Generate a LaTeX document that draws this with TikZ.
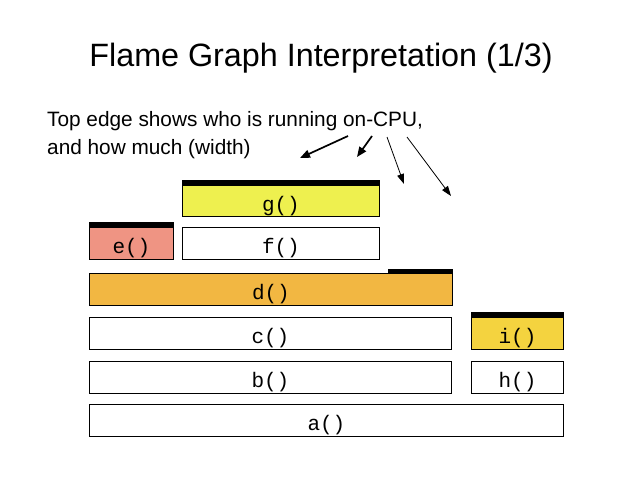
\documentclass[tikz,border=0pt]{standalone}
\usepackage{fontspec}
\setmainfont{Liberation Sans}
\newfontfamily\monofnt{Liberation Mono}
\usetikzlibrary{arrows.meta}
\definecolor{gyellow}{HTML}{EEF04F}
\definecolor{esalmon}{HTML}{EF9483}
\definecolor{dorange}{HTML}{F2B742}
\definecolor{iyellow}{HTML}{F4D33F}
\tikzset{
  frame/.style={draw=black, line width=0.9pt, inner sep=0pt, anchor=north west,
    minimum height=32pt, text height=21pt, text depth=0pt,
    font=\monofnt\fontsize{21}{22}\selectfont},
  topbar/.style={fill=black},
  thickarrow/.style={line width=1.7pt, -{Triangle[length=10pt,width=8pt]}},
  thinarrow/.style={line width=0.8pt, -{Triangle[length=10pt,width=7pt]}},
  bodytext/.style={anchor=base west, inner sep=0pt, font=\fontsize{20.8}{24}\selectfont}
}
\begin{document}
\begin{tikzpicture}[x=1pt,y=-1pt]
\useasboundingbox[fill=white] (0,0) rectangle (638,479);
\node[anchor=base, inner sep=0pt, font=\fontsize{32.3}{36}\selectfont] (title) at (321,66.5) {Flame Graph Interpretation (1/3)};
\node[bodytext] (t1) at (47,126.5) {Top edge shows who is running on-CPU,};
\node[bodytext] (t2) at (47,154.5) {and how much (width)};

\node[frame, minimum width=474pt] (a) at (89,404) {a()};
\node[frame, minimum width=362pt] (b) at (89,361) {b()};
\node[frame, minimum width=92pt] (h) at (471,361) {h()};
\node[frame, minimum width=362pt] (c) at (89,317) {c()};
\node[frame, minimum width=92pt, fill=iyellow] (i) at (471,317) {i()};
\node[frame, minimum width=363pt, fill=dorange] (d) at (89,273) {d()};
\node[frame, minimum width=84pt, fill=esalmon] (e) at (89,227) {e()};
\node[frame, minimum width=197pt] (f) at (182,227) {f()};
\node[frame, minimum width=197pt, fill=gyellow, minimum height=31pt] (g) at (182,185) {g()};

\fill[topbar] ([xshift=-0.45pt]g.north west) rectangle ([xshift=0.45pt,yshift=5pt]g.north east);
\fill[topbar] ([xshift=-0.45pt]e.north west) rectangle ([xshift=0.45pt,yshift=5pt]e.north east);
\fill[topbar] ([xshift=-0.45pt]i.north west) rectangle ([xshift=0.45pt,yshift=5pt]i.north east);
\coordinate (dbar) at (388,273);
\fill[topbar] (dbar) rectangle ([xshift=0.45pt,yshift=4.5pt]d.north east);

\coordinate (s1) at (348,136); \coordinate (e1) at (300,158);
\coordinate (s2) at (372,136); \coordinate (e2) at (357,157);
\coordinate (s3) at (387,137); \coordinate (e3) at (404,184);
\coordinate (s4) at (407,137); \coordinate (e4) at (451,196);
\draw[thickarrow] (s1) -- (e1);
\draw[thickarrow] (s2) -- (e2);
\draw[thinarrow] (s3) -- (e3);
\draw[thinarrow] (s4) -- (e4);
\end{tikzpicture}
\end{document}
